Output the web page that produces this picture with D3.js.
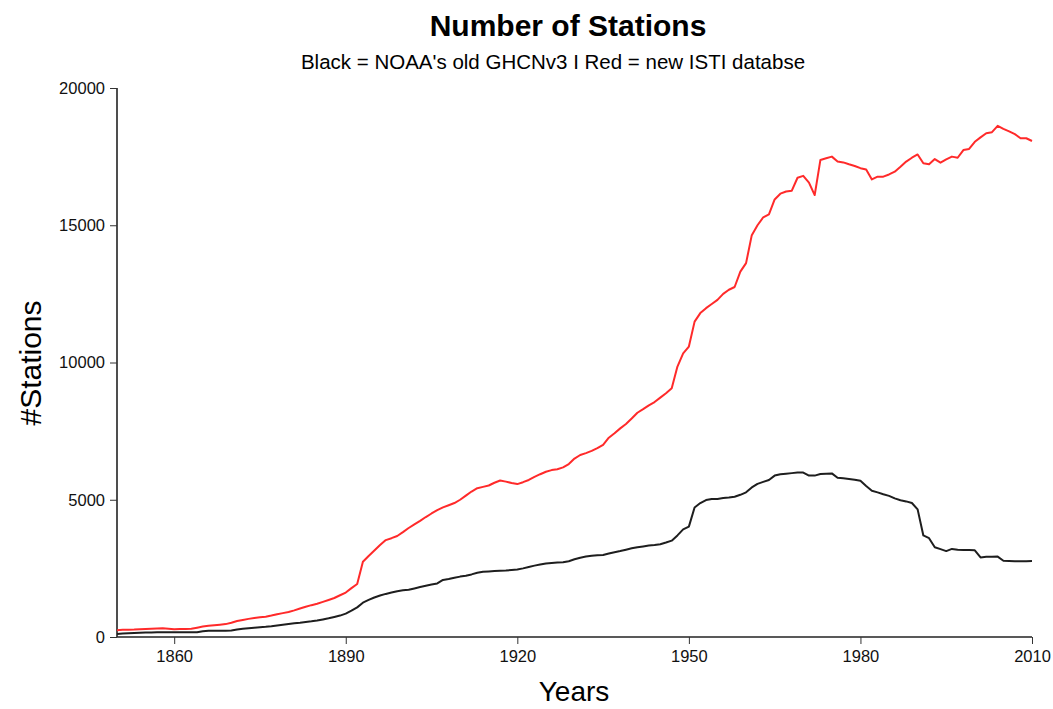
<!DOCTYPE html>
<html>
<head>
<meta charset="utf-8">
<script src="https://cdn.jsdelivr.net/npm/d3@7"></script>
<style>
  html, body { margin: 0; padding: 0; background: #fff; }
  svg { display: block; font-family: "Liberation Sans", Arial, Helvetica, sans-serif; }
</style>
</head>
<body>
<svg id="chart" width="1053" height="709"></svg>
<script>
const startYear = 1850;
const endYear = 2010;

// ISTI (red) station counts, one value per year 1850..2010
const istiCounts = [
  250, 260, 265, 270, 280, 290, 300, 310, 315, 300,
  285, 290, 295, 300, 340, 380, 410, 430, 450, 470,
  520, 580, 620, 660, 690, 720, 740, 780, 830, 870,
  910, 970, 1040, 1100, 1160, 1210, 1280, 1350, 1420, 1520,
  1620, 1780, 1930, 2740, 2950, 3150, 3350, 3530, 3600, 3680,
  3820, 3970, 4100, 4230, 4370, 4500, 4620, 4720, 4800, 4880,
  5000, 5150, 5300, 5420, 5470, 5520, 5620, 5700, 5660, 5610,
  5570, 5640, 5720, 5830, 5930, 6020, 6080, 6110, 6180, 6300,
  6500, 6630, 6700, 6780, 6880, 7000, 7260, 7420, 7600, 7760,
  7960, 8170, 8300, 8440, 8560, 8720, 8880, 9060, 9850, 10330,
  10580, 11490, 11800, 11980, 12130, 12280, 12500, 12650, 12750, 13310,
  13620, 14640, 15000, 15290, 15400, 15940, 16150, 16230, 16260, 16730,
  16800, 16550, 16100, 17380, 17440, 17500, 17320, 17290, 17220, 17160,
  17080, 17030, 16670, 16770, 16770, 16850, 16950, 17130, 17320, 17460,
  17580, 17260, 17220, 17410, 17280, 17400, 17500, 17460, 17740, 17780,
  18040, 18200, 18350, 18390, 18620, 18510, 18420, 18320, 18170, 18170,
  18070
];

// GHCNv3 (black) station counts, one value per year 1850..2010
const ghcnCounts = [
  110, 130, 140, 150, 155, 160, 165, 170, 170, 170,
  170, 170, 170, 170, 175, 210, 230, 230, 230, 230,
  235, 270, 300, 320, 340, 355, 370, 390, 420, 450,
  475, 500, 520, 545, 570, 600, 640, 680, 730, 780,
  850, 960, 1080, 1250, 1350, 1440, 1510, 1570, 1620, 1670,
  1700, 1720, 1770, 1820, 1870, 1910, 1950, 2080, 2110, 2160,
  2200, 2230, 2280, 2340, 2380, 2390, 2400, 2410, 2420, 2440,
  2460, 2500, 2550, 2600, 2640, 2680, 2700, 2710, 2720, 2760,
  2830, 2890, 2930, 2960, 2980, 2990, 3040, 3090, 3130, 3180,
  3230, 3270, 3300, 3330, 3350, 3380, 3440, 3510, 3700, 3920,
  4020, 4720, 4880, 4990, 5030, 5030, 5060, 5080, 5110, 5180,
  5270, 5450, 5580, 5650, 5720, 5880, 5930, 5950, 5970, 5990,
  5990, 5880, 5880, 5940, 5950, 5960, 5800, 5780, 5760, 5730,
  5690, 5500, 5330, 5270, 5200, 5140, 5050, 4980, 4940, 4880,
  4650, 3700, 3600, 3270, 3200, 3130, 3210, 3180, 3170, 3170,
  3160, 2900, 2920, 2920, 2930, 2780, 2770, 2760, 2760, 2760,
  2770
];

const xTicks = [1860, 1890, 1920, 1950, 1980, 2010];
const yTicks = [0, 5000, 10000, 15000, 20000];

const titleText = "Number of Stations";
const subtitleText = "Black = NOAA's old GHCNv3 I Red = new ISTI databse";
const xLabel = "Years";
const yLabel = "#Stations";

const years = d3.range(startYear, endYear + 1);

const svg = d3.select("#chart");
const mLeft = 117, mRight = 1032, mTop = 88, mBottom = 637;

const x = d3.scaleLinear().domain([startYear, endYear]).range([mLeft, mRight]);
const y = d3.scaleLinear().domain([0, 20000]).range([mBottom, mTop]);

// axes
const xAxis = d3.axisBottom(x).tickValues(xTicks).tickFormat(d3.format("d")).tickSizeOuter(0).tickSize(7).tickPadding(6);
const yAxis = d3.axisLeft(y).tickValues(yTicks).tickFormat(d3.format("d")).tickSizeOuter(0).tickSize(7).tickPadding(5);

const gx = svg.append("g").attr("transform", `translate(0,${mBottom})`).call(xAxis);
const gy = svg.append("g").attr("transform", `translate(${mLeft},0)`).call(yAxis);

[gx, gy].forEach(g => {
  g.select(".domain").attr("stroke", "#222").attr("stroke-width", 1.6);
  g.selectAll(".tick line").attr("stroke", "#333").attr("stroke-width", 1);
  g.selectAll(".tick text").attr("fill", "#111").style("font-size", "16.5px")
    .style("font-family", '"Liberation Sans", Arial, sans-serif');
});
gx.select(".domain").attr("d", `M${mLeft},0H${mRight}`);
gy.select(".domain").attr("d", `M0,${mTop}V${mBottom}`);

// lines
const line = vals => d3.line()
  .x((d, i) => x(years[i]))
  .y(d => y(d))(vals);

svg.append("path")
  .attr("d", line(istiCounts))
  .attr("fill", "none")
  .attr("stroke", "#ff2a2a")
  .attr("stroke-width", 2)
  .attr("stroke-linejoin", "round");

svg.append("path")
  .attr("d", line(ghcnCounts))
  .attr("fill", "none")
  .attr("stroke", "#1e1e1e")
  .attr("stroke-width", 2)
  .attr("stroke-linejoin", "round");

// titles
svg.append("text")
  .attr("x", 568).attr("y", 36)
  .attr("text-anchor", "middle")
  .style("font-size", "30px").style("font-weight", "bold")
  .attr("fill", "#000")
  .text(titleText);

svg.append("text")
  .attr("x", 553).attr("y", 69)
  .attr("text-anchor", "middle")
  .style("font-size", "20.5px")
  .attr("fill", "#000")
  .text(subtitleText);

svg.append("text")
  .attr("x", 574).attr("y", 701)
  .attr("text-anchor", "middle")
  .style("font-size", "28px")
  .attr("fill", "#000")
  .text(xLabel);

svg.append("text")
  .attr("transform", "translate(41,363) rotate(-90)")
  .attr("text-anchor", "middle")
  .style("font-size", "30px")
  .attr("fill", "#000")
  .text(yLabel);
</script>
</body>
</html>
